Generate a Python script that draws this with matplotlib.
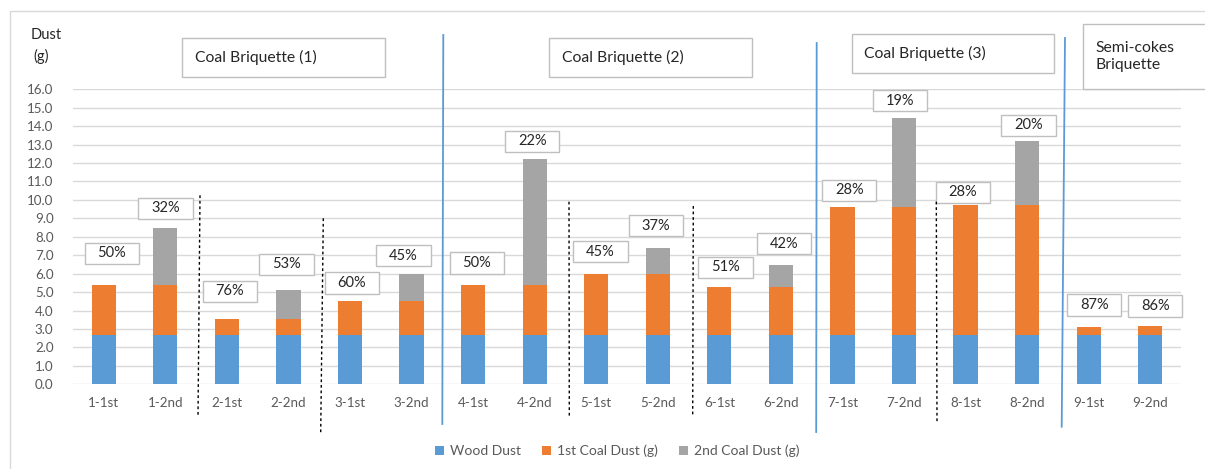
import matplotlib
matplotlib.use("Agg")
import matplotlib.pyplot as plt
from matplotlib.patches import Rectangle
from matplotlib.lines import Line2D

plt.rcParams['font.family'] = ['Lato', 'DejaVu Sans']

# ---- data -------------------------------------------------------------
categories = ["1-1st", "1-2nd", "2-1st", "2-2nd", "3-1st", "3-2nd",
              "4-1st", "4-2nd", "5-1st", "5-2nd", "6-1st", "6-2nd",
              "7-1st", "7-2nd", "8-1st", "8-2nd", "9-1st", "9-2nd"]
wood_dust = [2.7] * 18
coal_dust_1 = [2.7, 2.7, 0.85, 0.85, 1.8, 1.8,
               2.7, 2.7, 3.3, 3.3, 2.55, 2.55,
               6.9, 6.9, 7.0, 7.0, 0.4, 0.45]
coal_dust_2 = [0.0, 3.1, 0.0, 1.55, 0.0, 1.5,
               0.0, 6.8, 0.0, 1.4, 0.0, 1.2,
               0.0, 4.85, 0.0, 3.5, 0.0, 0.0]
wood_share = ["50%", "32%", "76%", "53%", "60%", "45%",
              "50%", "22%", "45%", "37%", "51%", "42%",
              "28%", "19%", "28%", "20%", "87%", "86%"]
group_titles = ["Coal Briquette (1)", "Coal Briquette (2)",
                "Coal Briquette (3)", "Semi-cokes\nBriquette"]
series_names = ["Wood Dust", "1st Coal Dust (g)", "2nd Coal Dust (g)"]
y_ticks = [i for i in range(17)]

# ---- layout of the share labels (offsets from bar centre / top) -------
label_dx = [0.13, 0.0, 0.05, -0.03, 0.03, -0.13, 0.06, -0.04, 0.07,
            -0.03, 0.10, 0.05, 0.11, -0.06, -0.04, 0.02, 0.09, 0.08]
label_gap = [1.71, 1.04, 1.5, 1.4, 1.0, 0.97, 1.17, 0.98, 1.2,
             1.2, 1.1, 1.17, 0.92, 0.92, 0.7, 0.84, 1.2, 1.1]

BLUE, ORANGE, GREY = "#5B9BD5", "#ED7D31", "#A5A5A5"
TXT = "#595959"
W, H = 1205, 469

fig = plt.figure(figsize=(W / 100, H / 100), dpi=100)
fig.patch.set_facecolor("white")
ax = fig.add_axes([73 / W, 1 - 384.3 / H, (1181 - 73) / W, (384.3 - 89.2) / H])

x = list(range(len(categories)))
bw = 0.395
ax.bar(x, wood_dust, bw, color=BLUE, label=series_names[0], zorder=3)
ax.bar(x, coal_dust_1, bw, bottom=wood_dust, color=ORANGE,
       label=series_names[1], zorder=3)
base2 = [a + b for a, b in zip(wood_dust, coal_dust_1)]
ax.bar(x, coal_dust_2, bw, bottom=base2, color=GREY,
       label=series_names[2], zorder=3)

ax.set_xlim(-0.5, len(categories) - 0.5)
ax.set_ylim(0, 16)
ax.set_yticks(y_ticks)
ax.set_yticklabels([f"{v:.1f}" for v in y_ticks])
ax.set_xticks(x)
ax.set_xticklabels(categories)
ax.tick_params(axis="both", length=0, labelsize=9.6, labelcolor=TXT)
ax.tick_params(axis="y", pad=14)
ax.tick_params(axis="x", pad=9)
ax.grid(axis="y", color="#D9D9D9", linewidth=1, zorder=0)
for s in ax.spines.values():
    s.set_visible(False)

# share labels in framed boxes above each bar
box_w, box_h = 0.883, 1.155
for i in x:
    top = base2[i] + coal_dust_2[i]
    cx = i + label_dx[i]
    cy = top + label_gap[i]
    ax.add_patch(Rectangle((cx - box_w / 2, cy - box_h / 2), box_w, box_h,
                           facecolor="white", edgecolor="#BFBFBF",
                           linewidth=1, zorder=4, clip_on=False))
    ax.text(cx, cy, wood_share[i], ha="center", va="center",
            fontsize=10.5, color="#262626", zorder=5)


def fx(px):
    return px / W


def fy(py):
    return 1 - py / H


# outer chart frame
fig.add_artist(Rectangle((fx(10), fy(500)), fx(1230) - fx(10), fy(11) - fy(500),
                         facecolor="none", edgecolor="#D9D9D9", linewidth=1))

# group title boxes
title_boxes = [(182.3, 37.7, 385.3, 77.3, 195),
               (549, 37.7, 751.7, 77.3, 561.7),
               (851.7, 34, 1054.3, 73.3, 863.7),
               (1083.3, 24.3, 1230, 89.3, 1095.3)]
for (x0, y0, x1, y1, tx), title in zip(title_boxes, group_titles):
    fig.add_artist(Rectangle((fx(x0), fy(y1)), fx(x1) - fx(x0), fy(y0) - fy(y1),
                             facecolor="white", edgecolor="#BFBFBF", linewidth=1))
    fig.text(fx(tx), fy((y0 + y1) / 2), title, ha="left", va="center",
             fontsize=11.3, color="#262626", linespacing=1.25)

# y-axis title
fig.text(fx(31), fy(35), "Dust", ha="left", va="center", fontsize=10.5, color="#262626")
fig.text(fx(33), fy(56), "(g)", ha="left", va="center", fontsize=10.5, color="#262626")

# group separators (solid blue) and sub-group separators (dotted black)
for (x0, y0, x1, y1) in [(443.3, 35, 442.3, 424), (816.7, 43, 816.2, 432),
                         (1065, 38, 1061.7, 426.7)]:
    fig.add_artist(Line2D([fx(x0), fx(x1)], [fy(y0), fy(y1)],
                          color="#5B9BD5", linewidth=1.3))
for (x0, y0, x1, y1) in [(200, 195.3, 198, 417.3), (323.3, 218.3, 320.7, 432.7),
                         (569, 201.7, 569.3, 416), (693.3, 206, 692.7, 415),
                         (936.3, 201.7, 937, 422.3)]:
    fig.add_artist(Line2D([fx(x0), fx(x1)], [fy(y0), fy(y1)],
                          color="black", linewidth=1, linestyle=(0, (2, 2))))

# legend
leg = fig.legend(loc="center", bbox_to_anchor=(fx(617), fy(451)), ncol=3,
                 frameon=False, fontsize=10, handlelength=0.7, handleheight=0.7,
                 handletextpad=0.4, columnspacing=1.5)
for t in leg.get_texts():
    t.set_color(TXT)

fig.savefig("out.png", dpi=100, facecolor="white")
